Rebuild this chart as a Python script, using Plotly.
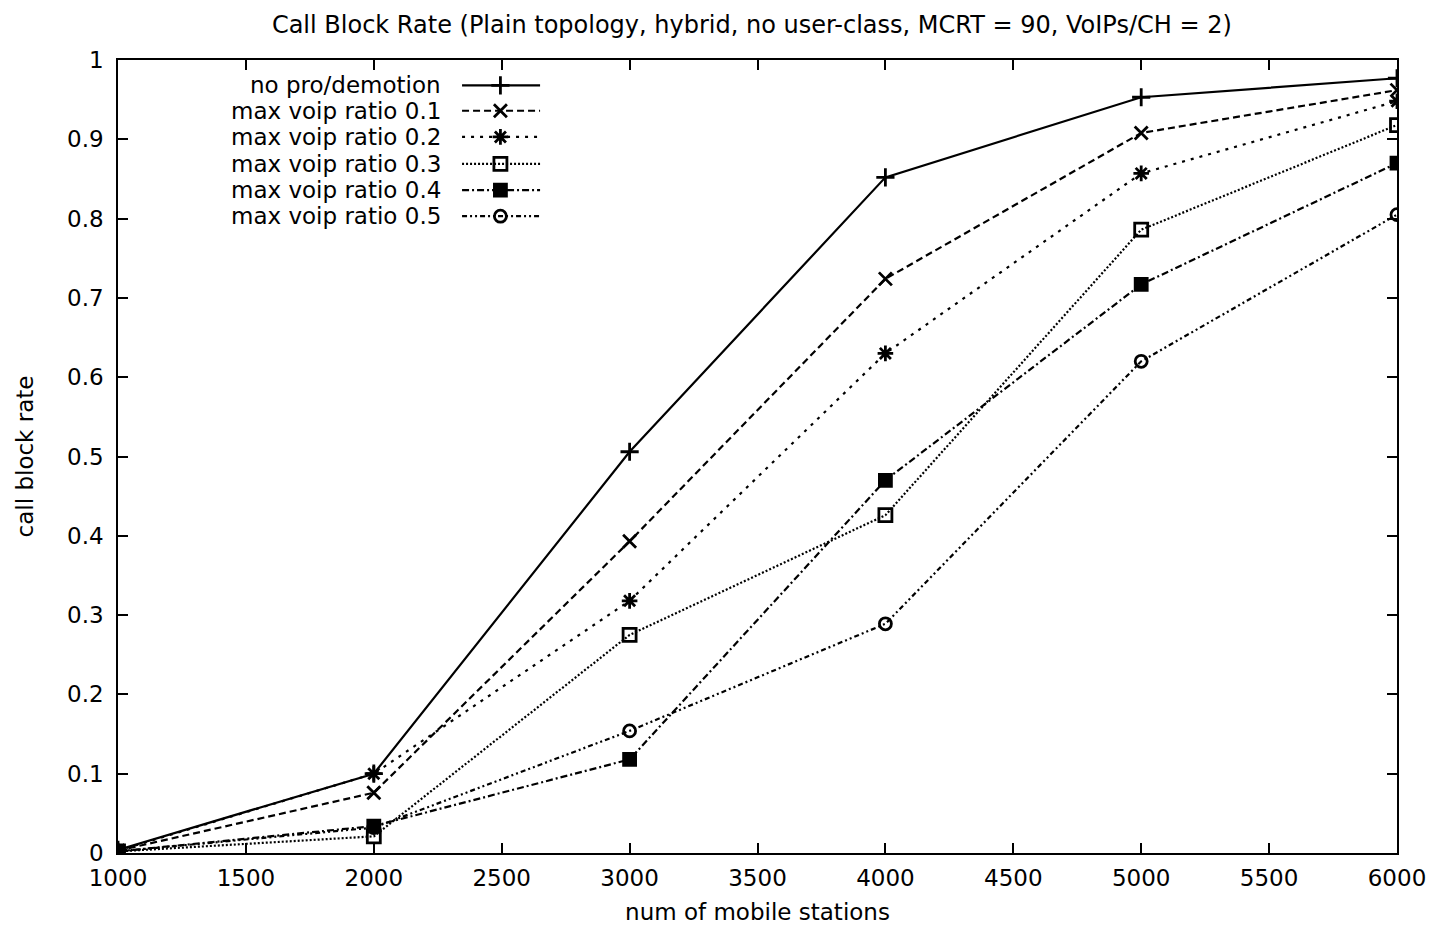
import plotly.graph_objects as go

x_vals = [1000, 2000, 3000, 4000, 5000, 6000]
no_pro = [0.004, 0.100, 0.506, 0.852, 0.953, 0.977]
r01 = [0.003, 0.076, 0.393, 0.724, 0.908, 0.962]
r02 = [0.003, 0.100, 0.318, 0.630, 0.857, 0.948]
r03 = [0.002, 0.021, 0.275, 0.426, 0.786, 0.918]
r04 = [0.002, 0.034, 0.118, 0.470, 0.717, 0.870]
r05 = [0.002, 0.032, 0.154, 0.289, 0.620, 0.805]

names = ["no pro/demotion", "max voip ratio 0.1", "max voip ratio 0.2",
         "max voip ratio 0.3", "max voip ratio 0.4", "max voip ratio 0.5"]
series = [no_pro, r01, r02, r03, r04, r05]
dashes = ["solid", "7px,4px", "3px,6px", "2px,2px", "7px,3px,2px,3px", "5px,3px,2px,3px,2px,3px"]
symbols = ["cross-thin-open", "x-thin-open", "asterisk-open", "square-open", "square", "circle-open"]
msizes = [13, 13, 13, 13, 12, 12]

FONT = "DejaVu Sans, Verdana, sans-serif"

fig = go.Figure()
for name, ys, d, s, ms in zip(names, series, dashes, symbols, msizes):
    fig.add_trace(go.Scatter(
        x=x_vals, y=ys, mode="lines+markers", name=name, showlegend=False,
        line=dict(color="black", width=2.2, dash=d),
        marker=dict(symbol=s, size=ms, color="black", line=dict(color="black", width=2.8)),
    ))

# custom gnuplot-style legend (text right-aligned, sample on the right) on an overlay axis
leg_y = [0.968, 0.936, 0.903, 0.869, 0.836, 0.803]
for i, (name, d, s, ms) in enumerate(zip(names, dashes, symbols, msizes)):
    fig.add_trace(go.Scatter(
        x=[0.269, 0.330], y=[leg_y[i]] * 2, xaxis="x2", yaxis="y2",
        mode="lines", showlegend=False, hoverinfo="skip",
        line=dict(color="black", width=2.2, dash=d),
    ))
    fig.add_trace(go.Scatter(
        x=[0.299], y=[leg_y[i]], xaxis="x2", yaxis="y2", mode="markers",
        showlegend=False, hoverinfo="skip",
        marker=dict(symbol=s, size=ms, color="black", line=dict(color="black", width=2.8)),
    ))
    fig.add_annotation(x=0.254, y=leg_y[i], xref="x2", yref="y2", text=name,
                       showarrow=False, xanchor="right", yanchor="middle",
                       font=dict(size=23, color="black", family=FONT))

axis_common = dict(showline=True, linecolor="black", linewidth=1.5, mirror="ticks",
                   ticks="inside", ticklen=10, tickcolor="black", tickwidth=1.5,
                   showgrid=False, zeroline=False, automargin=False,
                   tickfont=dict(size=23, color="black", family=FONT))

fig.update_layout(
    width=1425, height=917,
    margin=dict(l=110, r=36, t=52, b=72),
    paper_bgcolor="white", plot_bgcolor="white",
    font=dict(family=FONT, color="black", size=23),
    title=dict(text="Call Block Rate (Plain topology, hybrid, no user-class, MCRT = 90, VoIPs/CH = 2)",
               x=0.522, xanchor="center", y=0.982, yanchor="middle",
               font=dict(size=24, family=FONT)),
    xaxis=dict(range=[1000, 6000], dtick=500, ticklabelstandoff=4,
               title=dict(text="num of mobile stations", standoff=22, font=dict(size=23)),
               **axis_common),
    yaxis=dict(range=[0, 1], dtick=0.1, tickformat="~g", ticklabelstandoff=8,
               title=dict(text="call block rate", standoff=27, font=dict(size=23)),
               **axis_common),
    xaxis2=dict(range=[0, 1], domain=[0, 1], overlaying="x", visible=False, fixedrange=True),
    yaxis2=dict(range=[0, 1], domain=[0, 1], overlaying="y", visible=False, fixedrange=True,
                anchor="x2"),
)

fig.write_html("out.html")
